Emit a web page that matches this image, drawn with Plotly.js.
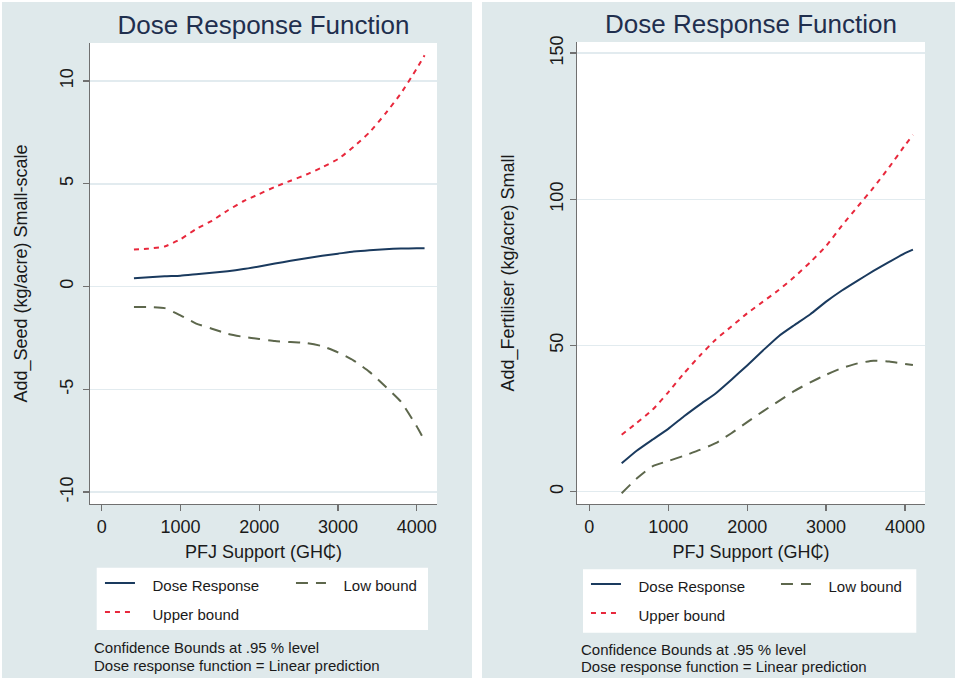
<!DOCTYPE html>
<html>
<head>
<meta charset="utf-8">
<script src="https://cdn.plot.ly/plotly-3.0.1.min.js"></script>
<style>
  html, body { margin: 0; padding: 0; background: #ffffff; width: 957px; height: 681px; overflow: hidden; }
  #seed { position: absolute; left: 2px; top: 2px; width: 470px; height: 676px; }
  #fert { position: absolute; left: 482px; top: 2px; width: 473px; height: 676px; }
</style>
</head>
<body>
<div id="seed"></div>
<div id="fert"></div>
<script>
// PFJ support levels at which the dose response is evaluated (GH₵)
const support = [410, 600, 800, 1000, 1200, 1400, 1600, 1800, 2000, 2200,
                 2400, 2600, 2800, 3000, 3200, 3400, 3600, 3800, 4000, 4100];

// Additional seed (kg/acre), small-scale farms
const seedDose  = [0.40, 0.45, 0.50, 0.53, 0.60, 0.67, 0.75, 0.85, 0.98, 1.12,
                   1.25, 1.38, 1.50, 1.60, 1.70, 1.77, 1.82, 1.85, 1.86, 1.86];
const seedLow   = [-1.00, -1.00, -1.05, -1.40, -1.80, -2.05, -2.30, -2.45, -2.55, -2.65,
                   -2.70, -2.75, -2.90, -3.20, -3.60, -4.15, -4.85, -5.60, -6.80, -7.50];
const seedUpper = [1.80, 1.85, 1.95, 2.30, 2.80, 3.20, 3.70, 4.15, 4.50, 4.85,
                   5.15, 5.45, 5.80, 6.20, 6.80, 7.50, 8.40, 9.40, 10.60, 11.25];

// Additional fertiliser (kg/acre), small farms
const fertDose  = [9.7, 14.0, 17.8, 21.5, 25.8, 29.8, 33.6, 38.3, 43.2, 48.3,
                   53.2, 57.0, 60.7, 65.0, 68.8, 72.2, 75.5, 78.6, 81.6, 82.8];
const fertLow   = [-0.5, 4.5, 8.7, 10.5, 12.3, 14.3, 16.6, 20.0, 23.8, 27.5,
                   31.0, 34.5, 37.4, 40.0, 42.3, 43.9, 44.8, 44.5, 43.7, 43.3];
const fertUpper = [19.5, 23.5, 28.0, 34.0, 40.5, 46.5, 52.0, 56.5, 61.0, 65.0,
                   69.0, 73.5, 78.5, 84.0, 91.0, 97.5, 104.0, 111.0, 118.5, 122.0];

// Text
const chartTitle = 'Dose Response Function';
const xTitle = 'PFJ Support (GH₵)';
const seedYTitle = 'Add_Seed (kg/acre) Small-scale';
const fertYTitle = 'Add_Fertiliser (kg/acre) Small';
const seriesNames = ['Dose Response', 'Low bound', 'Upper bound'];
const noteLines = ['Confidence Bounds at .95 % level',
                   'Dose response function = Linear prediction'];
const xTicks = [0, 1000, 2000, 3000, 4000];
const seedYTicks = [-10, -5, 0, 5, 10];
const fertYTicks = [0, 50, 100, 150];

const FONT = 'Arial, "Liberation Sans", "DejaVu Sans", sans-serif';
const PANEL_BG = '#dfe9eb';
const AXIS_COLOR = '#707070';
const GRID_COLOR = '#e2ebef';
const COLORS = { dose: '#1a3a5e', low: '#5d674c', upper: '#e8283c' };

function legendLabel(s) {
  return '<span style="font-size:15px">\u00a0\u00a0\u00a0' + s + '</span>';
}

function drawPanel(id, p) {
  const W = p.width, H = 676;
  const m = p.margin;
  const pw = W - m.l - m.r, ph = H - m.t - m.b;
  // pixel position inside the panel -> paper fraction
  const fx = x => (x - m.l) / pw;
  const fy = y => (H - m.b - y) / ph;

  const lineStyle = {
    dose:  { color: COLORS.dose,  width: 2, dash: 'solid' },
    low:   { color: COLORS.low,   width: 2, dash: '12px,8px' },
    upper: { color: COLORS.upper, width: 2, dash: '5px,5px' }
  };

  const traces = [
    { x: support, y: p.dose,  name: legendLabel(seriesNames[0]), line: lineStyle.dose },
    { x: support, y: p.low,   name: legendLabel(seriesNames[1]), line: lineStyle.low },
    { x: support, y: p.upper, name: legendLabel(seriesNames[2]), line: lineStyle.upper }
  ].map(t => Object.assign({ type: 'scatter', mode: 'lines', hoverinfo: 'skip' }, t,
        { line: Object.assign({ shape: 'spline', smoothing: 0.5 }, t.line) }));

  const layout = {
    width: W, height: H,
    margin: Object.assign({ autoexpand: false, pad: 0 }, m),
    paper_bgcolor: PANEL_BG,
    plot_bgcolor: '#ffffff',
    font: { family: FONT, color: '#1a1a1a' },
    showlegend: true,
    title: {
      text: chartTitle,
      font: { family: FONT, size: 26, color: '#1f2f4e' },
      x: 0.5, xref: 'paper', xanchor: 'center',
      y: 1 - p.titleY / H, yref: 'container', yanchor: 'middle'
    },
    xaxis: {
      range: p.xRange, tickvals: xTicks, ticktext: xTicks.map(String),
      showline: true, linecolor: AXIS_COLOR, linewidth: 1.3, mirror: false,
      ticks: 'outside', ticklen: 6, tickwidth: 1.3, tickcolor: AXIS_COLOR,
      showgrid: false, zeroline: false,
      tickfont: { family: FONT, size: 18, color: '#1a1a1a' },
      title: { text: xTitle, font: { family: FONT, size: 18, color: '#1a1a1a' }, standoff: 9 }
    },
    yaxis: {
      range: p.yRange, tickvals: p.yTicks, ticktext: p.yTicks.map(String),
      showline: true, linecolor: AXIS_COLOR, linewidth: 1.3, mirror: false,
      ticks: 'outside', ticklen: 6, tickwidth: 1.3, tickcolor: AXIS_COLOR,
      tickangle: -90, ticklabelstandoff: p.yLabelGap,
      showgrid: true, gridcolor: GRID_COLOR, gridwidth: 1.5, zeroline: false,
      tickfont: { family: FONT, size: 18, color: '#1a1a1a' },
      title: { text: p.yTitle, font: { family: FONT, size: 18, color: '#1a1a1a' }, standoff: p.yTitleGap }
    },
    legend: {
      orientation: 'h', traceorder: 'normal',
      x: -0.0001, xanchor: 'left',
      y: fy(p.legendTop), yanchor: 'top',
      bgcolor: 'rgba(0,0,0,0)', borderwidth: 0,
      font: { family: FONT, size: 20, color: '#1a1a1a' },
      entrywidth: 136, entrywidthmode: 'pixels',
      indentation: p.indent
    },
    shapes: [{
      type: 'rect', xref: 'paper', yref: 'paper', layer: 'below',
      x0: fx(p.box[0]), x1: fx(p.box[1]), y0: fy(p.box[3]), y1: fy(p.box[2]),
      fillcolor: '#ffffff', line: { width: 0 }
    }],
    annotations: noteLines.map((t, i) => ({
      text: t, showarrow: false, xref: 'paper', yref: 'paper', borderpad: 0,
      x: fx(p.noteX), y: fy(p.noteY[i]), xanchor: 'left', yanchor: 'middle',
      font: { family: FONT, size: 15, color: '#1a1a1a' }
    }))
  };

  Plotly.newPlot(id, traces, layout, { staticPlot: true, displayModeBar: false });
}

drawPanel('seed', {
  width: 470,
  margin: { l: 88, r: 35, t: 41, b: 174 },
  xRange: [-148, 4258], yRange: [-10.58, 11.85], yTicks: seedYTicks,
  dose: seedDose, low: seedLow, upper: seedUpper,
  yTitle: seedYTitle, titleY: 23, yLabelGap: 3, yTitleGap: 24,
  legendTop: 561.5, indent: 10,
  box: [94.7, 426, 565.7, 628],
  noteX: 91, noteY: [645.5, 663]
});

drawPanel('fert', {
  width: 473,
  margin: { l: 95, r: 30, t: 40, b: 174 },
  xRange: [-156, 4253], yRange: [-4.2, 153.8], yTicks: fertYTicks,
  dose: fertDose, low: fertLow, upper: fertUpper,
  yTitle: fertYTitle, titleY: 22, yLabelGap: 0, yTitleGap: 27,
  legendTop: 562.5, indent: 9,
  box: [101, 434.3, 567.3, 630.7],
  noteX: 97.7, noteY: [647, 664.5]
});
</script>
</body>
</html>
